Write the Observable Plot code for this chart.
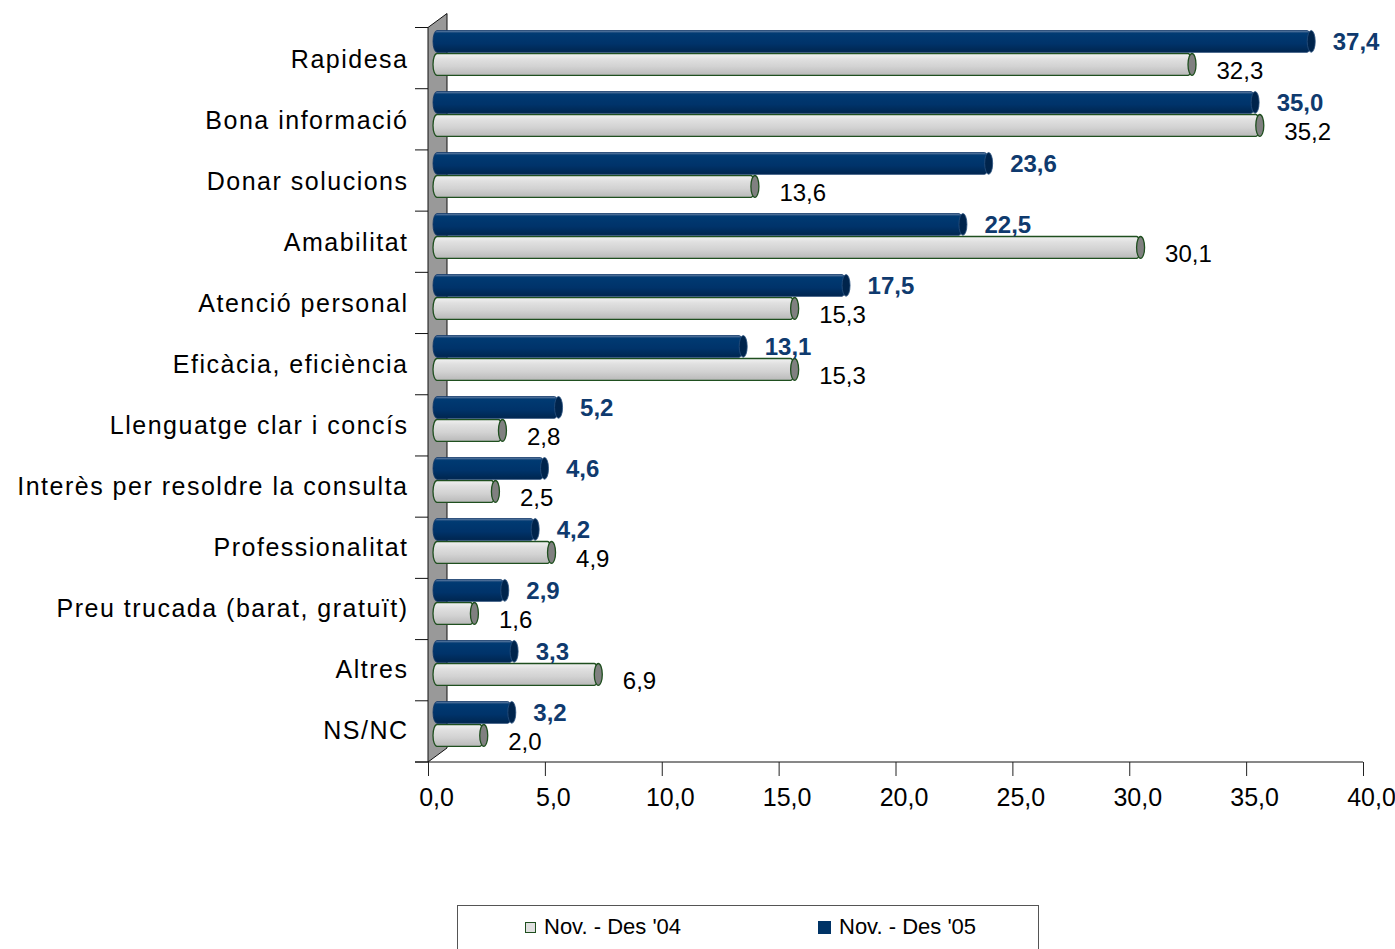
<!DOCTYPE html>
<html>
<head>
<meta charset="utf-8">
<script src="https://cdn.jsdelivr.net/npm/d3@7"></script>
<script src="https://cdn.jsdelivr.net/npm/@observablehq/plot@0.6"></script>
<style>
  html, body { margin: 0; padding: 0; background: #fff; overflow: hidden; }
  body { width: 1395px; height: 949px; position: relative; font-family: "Liberation Sans", Arial, sans-serif; }
  #chart { position: absolute; left: 0; top: 0; }
  #legend { position: absolute; left: 457px; top: 905px; width: 582px; height: 70px; border: 1px solid #555; box-sizing: border-box; }
  .item { position: absolute; top: 8px; font-size: 22px; color: #000; white-space: nowrap; display: flex; align-items: center; }
  .sw { display: inline-block; width: 11px; height: 11px; margin-right: 8px; box-sizing: border-box; }
</style>
</head>
<body>
<div id="chart"></div>
<div id="legend">
  <div class="item" style="left:67px"><span class="sw" style="background:#e0e0e0;border:1.5px solid #1f4f1f"></span>Nov. - Des '04</div>
  <div class="item" style="left:360px"><span class="sw" style="background:#003366;width:13px;height:13px"></span>Nov. - Des '05</div>
</div>
<script>
const categories = ["Rapidesa","Bona informació","Donar solucions","Amabilitat","Atenció personal","Eficàcia, eficiència","Llenguatge clar i concís","Interès per resoldre la consulta","Professionalitat","Preu trucada (barat, gratuït)","Altres","NS/NC"];
const series05 = [37.4,35.0,23.6,22.5,17.5,13.1,5.2,4.6,4.2,2.9,3.3,3.2];
const series04 = [32.3,35.2,13.6,30.1,15.3,15.3,2.8,2.5,4.9,1.6,6.9,2.0];
const xTicks = [0,5,10,15,20,25,30,35,40];

const d05 = categories.map((c, i) => ({cat: c, value: series05[i]}));
const d04 = categories.map((c, i) => ({cat: c, value: series04[i]}));
const fmt = v => v.toFixed(1).replace(".", ",");

const H = 890, mTop = 27.5, mBottom = 128;
const bw = (H - mTop - mBottom) / categories.length;

function defs() {
  const g = d3.create("svg:g");
  const df = g.append("defs");
  const gd = df.append("linearGradient").attr("id", "gDark").attr("x1", 0).attr("y1", 0).attr("x2", 0).attr("y2", 1);
  [[0, "#7f97b6"], [0.07, "#2a5585"], [0.14, "#003a72"], [0.6, "#00336a"], [1, "#00264f"]].forEach(([o, c]) => gd.append("stop").attr("offset", o).attr("stop-color", c));
  const gl = df.append("linearGradient").attr("id", "gLight").attr("x1", 0).attr("y1", 0).attr("x2", 0).attr("y2", 1);
  [[0, "#f2f2f2"], [0.25, "#e0e0e0"], [0.6, "#d2d2d2"], [1, "#b9b9b9"]].forEach(([o, c]) => gl.append("stop").attr("offset", o).attr("stop-color", c));
  return g.node();
}

function wall(index, scales, values, dims) {
  const g = d3.create("svg:g");
  const x0 = scales.x(0);
  const top = dims.marginTop, bottom = dims.height - dims.marginBottom;
  const xr = scales.x(40);
  g.append("polygon")
    .attr("points", `${x0},${top} ${x0 + 19},${top - 14} ${x0 + 19},${bottom - 14} ${x0},${bottom}`)
    .attr("fill", "#999").attr("stroke", "#111").attr("stroke-width", 1);
  for (let i = 0; i <= categories.length; i++) {
    const y = top + i * bw;
    g.append("line").attr("x1", x0 - 13).attr("x2", x0).attr("y1", y).attr("y2", y).attr("stroke", "#111");
  }
  g.append("line").attr("x1", x0 - 13).attr("x2", xr).attr("y1", bottom).attr("y2", bottom).attr("stroke", "#111");
  return g.node();
}

const plot = Plot.plot({
  width: 1395,
  height: H,
  marginLeft: 428,
  marginRight: 32,
  marginTop: mTop,
  marginBottom: mBottom,
  x: {domain: [0, 40]},
  y: {domain: categories, padding: 0},
  style: {fontFamily: "'Liberation Sans', Arial, sans-serif", background: "white", color: "#000"},
  marks: [
    defs,
    wall,
    // 2004 bars (light cylinders)
    Plot.barX(d04, {x: "value", y: "cat", fill: "url(#gLight)", stroke: "#1f4f1f", strokeWidth: 1.3,
      insetTop: 24.5, insetBottom: bw - 46.5, dx: 5, insetRight: -4, rx: 4, ry: 11}),
    Plot.barX(d04, {x1: "value", x2: "value", y: "cat", fill: "#808080", stroke: "#1f4f1f", strokeWidth: 1.3,
      insetTop: 24.5, insetBottom: bw - 46.5, dx: 9, insetLeft: -4, insetRight: -4, rx: 4, ry: 11}),
    // 2005 bars (dark cylinders)
    Plot.barX(d05, {x: "value", y: "cat", fill: "url(#gDark)", stroke: "#0c3466", strokeWidth: 0.8,
      insetTop: 1.5, insetBottom: bw - 23.5, dx: 5, insetRight: -4, rx: 4, ry: 11}),
    Plot.barX(d05, {x1: "value", x2: "value", y: "cat", fill: "#00244c", stroke: "#28507e", strokeWidth: 0.8,
      insetTop: 1.5, insetBottom: bw - 23.5, dx: 9, insetLeft: -4, insetRight: -4, rx: 4, ry: 11}),
    // value labels
    Plot.text(d05, {x: "value", y: "cat", text: d => fmt(d.value), textAnchor: "start", dx: 30, dy: 13 - bw / 2,
      fill: "#0f3a6e", fontWeight: "bold", fontSize: 24}),
    Plot.text(d04, {x: "value", y: "cat", text: d => fmt(d.value), textAnchor: "start", dx: 33, dy: 42 - bw / 2,
      fill: "#000", fontSize: 24}),
    Plot.axisX({ticks: xTicks, tickFormat: () => "", tickSize: 14, label: null, stroke: "#222"}),
    Plot.axisX({ticks: xTicks, tickFormat: fmt, tickSize: 0, tickPadding: 26, dx: 8, fontSize: 25, label: null}),
    Plot.axisY({tickSize: 0, tickPadding: 20, fontSize: 25, label: null})
  ]
});

plot.querySelectorAll('[aria-label="y-axis tick label"] text').forEach(t => t.style.letterSpacing = "1.5px");
document.getElementById("chart").appendChild(plot);
</script>
</body>
</html>
